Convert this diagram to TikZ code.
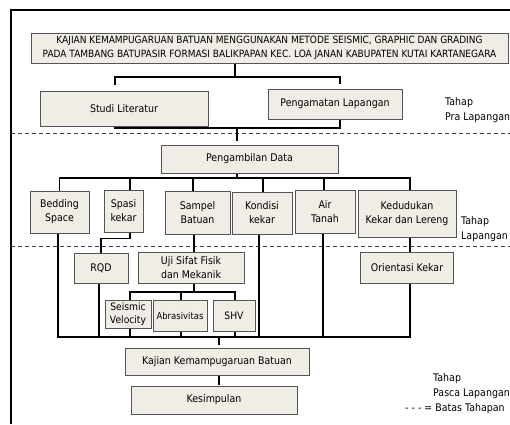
\documentclass[tikz,border=0pt]{standalone}
\usepackage{fontspec}
\setmainfont{DejaVu Sans}[FakeStretch=0.9]
\usepackage{tikz}
\definecolor{boxfill}{RGB}{240,237,230}
\definecolor{boxline}{RGB}{85,85,85}

\begin{document}
\begin{tikzpicture}[x=1pt, y=-1pt,
box/.style={rectangle, draw=boxline, fill=boxfill, line width=1pt, inner sep=1pt, align=center, font=\fontsize{10.5}{14}\selectfont},
subbox/.style={box, font=\fontsize{10.2}{13.5}\selectfont},
line/.style={draw=black, line width=1.5pt},
batas/.style={draw=black!75, line width=0.8pt, dash pattern=on 4pt off 3pt},
tahap/.style={anchor=north west, align=left, inner sep=0pt, font=\fontsize{10.5}{15.5}\selectfont}
]
\useasboundingbox (0,0) rectangle (510,424);
%Frame
\draw[line width=1.2pt] (11,424) -- (11,10) -- (512,10);
%Stage borders
\draw[batas] (11,133) -- (512,133);
\draw[batas] (11,246) -- (512,246);
%Nodes
\node[box, minimum width=477pt, minimum height=30pt, font=\fontsize{10}{14}\selectfont] (judul) at (269.5,48)
  {KAJIAN KEMAMPUGARUAN BATUAN MENGGUNAKAN METODE SEISMIC, GRAPHIC DAN GRADING\\PADA TAMBANG BATUPASIR FORMASI BALIKPAPAN KEC. LOA JANAN KABUPATEN KUTAI KARTANEGARA};
\node[box, minimum width=168pt, minimum height=35pt] (studi)      at (124,108.5) {Studi Literatur};
\node[box, minimum width=134pt, minimum height=30pt] (pengamatan) at (335,104)   {Pengamatan Lapangan};
\node[box, minimum width=177pt, minimum height=28pt] (ambil)      at (249.5,159) {Pengambilan Data};
\node[box, minimum width=59pt, minimum height=42pt]  (bedding)    at (59.5,212)  {Bedding\\Space};
\node[box, minimum width=39pt, minimum height=42pt]  (spasi)      at (123.5,211) {Spasi\\kekar};
\node[box, minimum width=65pt, minimum height=43pt]  (sampel)     at (197.5,212.5) {Sampel\\Batuan};
\node[box, minimum width=60pt, minimum height=42pt]  (kondisi)    at (262,213)   {Kondisi\\kekar};
\node[box, minimum width=60pt, minimum height=43pt]  (air)        at (325,211.5) {Air\\Tanah};
\node[box, minimum width=98pt, minimum height=47pt]  (kedudukan)  at (407,213.5) {Kedudukan\\Kekar dan Lereng};
\node[box, minimum width=54pt, minimum height=30pt]  (rqd)        at (101,268)   {RQD};
\node[box, minimum width=106pt, minimum height=31pt] (uji)        at (191,267.5) {Uji Sifat Fisik\\dan Mekanik};
\node[box, minimum width=93pt, minimum height=31pt]  (orientasi)  at (407,267.5) {Orientasi Kekar};
\node[subbox, minimum width=46pt, minimum height=28pt] (seismic)  at (128,314)   {Seismic\\Velocity};
\node[subbox, minimum width=54pt, minimum height=31pt, font=\fontsize{9.4}{13}\selectfont] (abrasi) at (180,315.5) {Abrasivitas};
\node[subbox, minimum width=42pt, minimum height=31pt] (shv)      at (234,315.5) {SHV};
\node[box, minimum width=184pt, minimum height=27pt] (kajian)     at (217,361.5) {Kajian Kemampugaruan Batuan};
\node[box, minimum width=166pt, minimum height=28pt] (simpul)     at (214,400)   {Kesimpulan};
%Stage labels
\node[tahap] (pra)    at (445,97)  {Tahap\\Pra Lapangan};
\node[tahap] (lap)    at (461,216) {Tahap\\Lapangan};
\node[tahap] (pasca)  at (433,373) {Tahap\\Pasca Lapangan};
\node[tahap] (ket)    at (405,403) {- - - = Batas Tahapan};
%Lines
\coordinate (busA) at (235,77);
\coordinate (busB) at (237,128);
\coordinate (busC) at (237,178);
\coordinate (busD) at (219,337);
\coordinate (busE) at (194,292);
\draw[line] (judul.south -| busA) -- (busA);
\draw[line, shorten >=6pt] (busA) -| ([xshift=-9pt]studi.north);
\draw[line, shorten >=5pt] (busA) -| ([xshift=5pt]pengamatan.north);
\draw[line] ([xshift=-9pt]studi.south) |- (busB) -| ([xshift=5pt]pengamatan.south);
\draw[line, shorten >=4pt] (busB) -- (ambil.north -| busB);
\draw[line] (ambil.south -| busC) -- (busC);
\foreach \n/\dx in {bedding/0, spasi/6.5, sampel/-4.5, kondisi/1, air/-1, kedudukan/3}
  \draw[line] (busC) -| ([xshift=\dx pt]\n.north);
\draw[line] ([xshift=6.5pt]spasi.south) -- ++(0,6) -| (rqd.north);
\draw[line] ([xshift=-3.5pt]sampel.south) -- ([xshift=3pt]uji.north);
\draw[line] ([xshift=3pt]kedudukan.south) -- ([xshift=3pt]orientasi.north);
\draw[line] (uji.south -| busE) -- (busE);
\foreach \n/\dx in {seismic/2, abrasi/1, shv/1}
  \draw[line] (busE) -| ([xshift=\dx pt]\n.north);
\foreach \n/\dx in {bedding/-1.5, rqd/-2, seismic/2, abrasi/1, shv/1, kondisi/-3, air/-2, orientasi/3}
  \draw[line] ([xshift=\dx pt]\n.south) |- (busD);
\draw[line, shorten >=3pt] (busD) -- (kajian.north -| busD);
\draw[line, shorten >=1pt] (kajian.south -| busD) -- (simpul.north -| busD);
\end{tikzpicture}
\end{document}
